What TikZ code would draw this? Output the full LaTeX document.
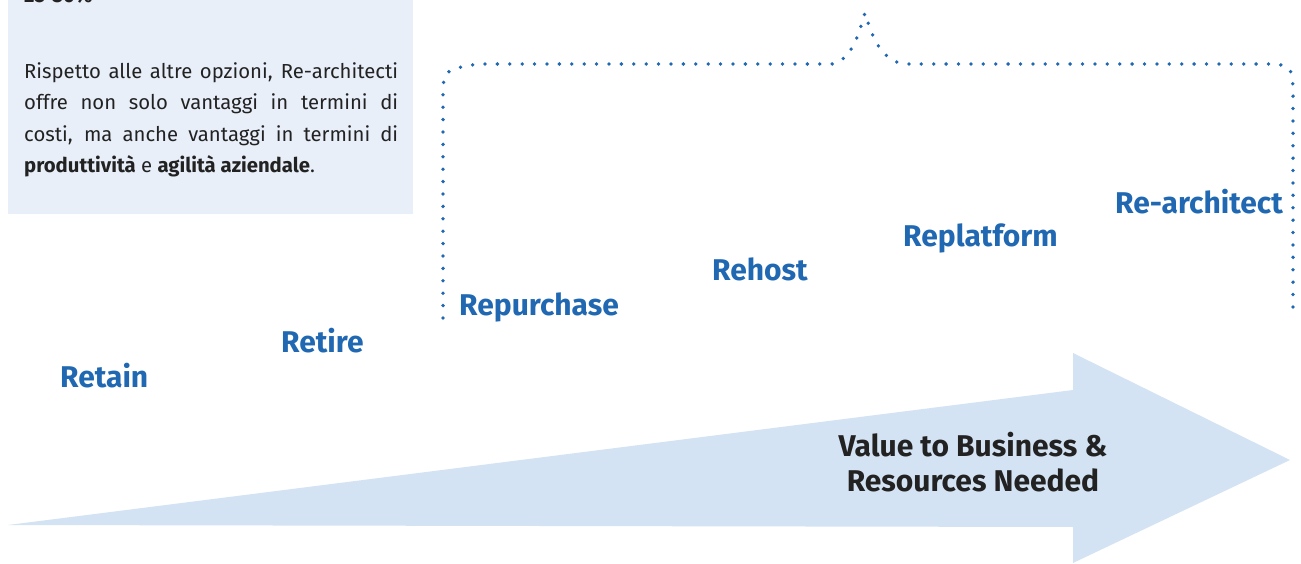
\documentclass[tikz,border=0pt]{standalone}
\usepackage{fontspec}
\setmainfont{Fira Sans}
\definecolor{boxbg}{HTML}{E8EFF9}
\definecolor{arrowbg}{HTML}{D4E3F3}
\definecolor{optblue}{HTML}{2068B2}
\definecolor{inktext}{HTML}{222222}
\tikzset{
  option/.style={font=\bfseries\fontsize{30}{33}\selectfont, text=optblue, inner sep=0pt},
  bodyline/.style={font=\fontsize{20.3}{22}\selectfont, text=inktext, inner sep=0pt, anchor=base west},
  bracket/.style={draw=optblue, line width=3.8pt, line cap=round, dash pattern=on 0pt off 12.4pt},
}
\begin{document}
\begin{tikzpicture}[x=1pt,y=1pt]
\useasboundingbox (0,0) rectangle (1301,563);
\clip (0,0) rectangle (1301,563);

% note panel
\fill[boxbg] (8,349) rectangle (413,570);
\node[bodyline, font=\bfseries\fontsize{20.3}{22}\selectfont] (pct) at (24,560) {25-30\%};
\node[bodyline] (l1) at (24,484) {\makebox[374pt][s]{Rispetto alle altre opzioni, Re-architecti}};
\node[bodyline] (l2) at (24,453) {\makebox[374pt][s]{offre non solo vantaggi in termini di}};
\node[bodyline] (l3) at (24,421) {\makebox[374pt][s]{costi, ma anche vantaggi in termini di}};
\node[bodyline] (l4) at (24,390) {\textbf{produttività} e \textbf{agilità aziendale}.};

% value arrow
\fill[arrowbg] (8,38) -- (1073,173) -- (1073,210) -- (1290,103) -- (1073,0) -- (1073,36) -- cycle;
\node[font=\bfseries\fontsize{30}{35}\selectfont, text=inktext, align=center, inner sep=0pt] (value) at (973,101) {Value to Business \&\\ Resources Needed};

% migration options
\node[option, anchor=west] (retain) at (60,187) {Retain};
\node[option, anchor=west] (retire) at (281,222) {Retire};
\node[option, anchor=west] (repurchase) at (459,256) {Repurchase};
\node[option, anchor=west] (rehost) at (712,294) {Rehost};
\node[option, anchor=west] (replatform) at (903,325) {Replatform};
\node[option, anchor=east] (rearchitect) at (1283,361) {Re-architect};

% dotted brace over the cloud options
\draw[bracket] (443,245) -- (443,463) .. controls (443,493) .. (478,499) -- (832,499)
  .. controls (852,503) and (859,530) .. (865,550)
  .. controls (871,530) and (880,501) .. (906,499) -- (1258,499)
  .. controls (1293,499) .. (1293,463) -- (1293,247);
\end{tikzpicture}
\end{document}
